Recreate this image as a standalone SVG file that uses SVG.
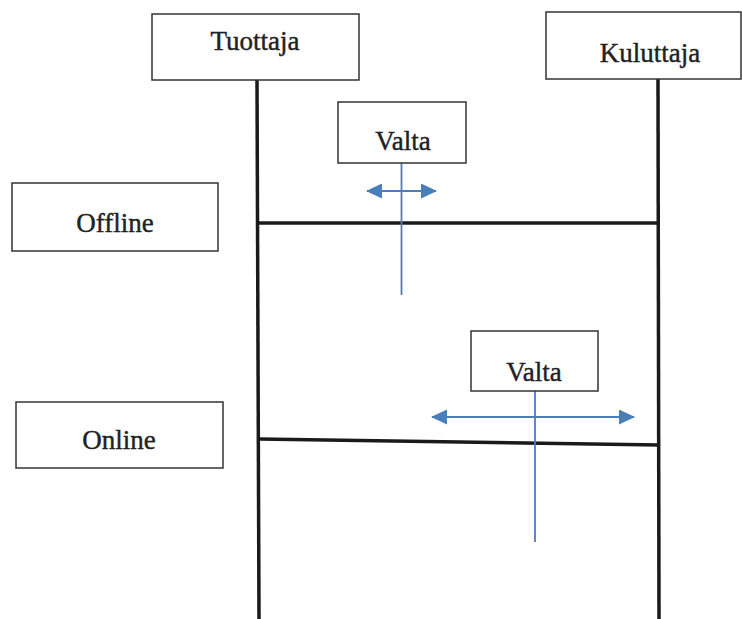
<svg xmlns="http://www.w3.org/2000/svg" width="742" height="619" viewBox="0 0 742 619">
<defs>
<style>
.box{fill:#fff;stroke:#333;stroke-width:1.5}
.lbl{font-family:"Liberation Serif",serif;font-size:27px;fill:#222;stroke:#222;stroke-width:0.4;text-anchor:middle}
.life{stroke:#1a1a1a;stroke-width:3.5;fill:none}
.blue{stroke:#4a7ebb;stroke-width:1.8;fill:none}
</style>
<marker id="ah" viewBox="0 0 16 15" refX="15" refY="7.5" markerWidth="16" markerHeight="15" orient="auto-start-reverse" markerUnits="userSpaceOnUse">
<path d="M0,0 L16,7.5 L0,15 z" fill="#4a7ebb"/>
</marker>
</defs>
<g id="connectors">
<line class="life" x1="257" y1="80" x2="259" y2="619"/>
<line class="life" x1="658" y1="79" x2="659" y2="619"/>
<line class="life" x1="258" y1="223" x2="658" y2="223"/>
<line class="life" x1="259" y1="439" x2="659" y2="445"/>
<line class="blue" x1="401.5" y1="163" x2="401.5" y2="295"/>
<line class="blue" x1="367" y1="191" x2="436" y2="191" marker-start="url(#ah)" marker-end="url(#ah)"/>
<line class="blue" x1="535" y1="391" x2="535" y2="542"/>
<line class="blue" x1="432" y1="417" x2="634" y2="417" marker-start="url(#ah)" marker-end="url(#ah)"/>
</g>
<g id="tuottaja">
<rect class="box" x="152" y="14" width="207" height="66"/>
<text class="lbl" x="255" y="50">Tuottaja</text>
</g>
<g id="kuluttaja">
<rect class="box" x="546" y="12" width="195" height="67"/>
<text class="lbl" x="650" y="62">Kuluttaja</text>
</g>
<g id="valta1">
<rect class="box" x="338" y="102" width="128" height="61"/>
<text class="lbl" x="403" y="150">Valta</text>
</g>
<g id="offline">
<rect class="box" x="12" y="183" width="206" height="68"/>
<text class="lbl" x="115" y="232">Offline</text>
</g>
<g id="valta2">
<rect class="box" x="471" y="331" width="127" height="60"/>
<text class="lbl" x="534" y="381">Valta</text>
</g>
<g id="online">
<rect class="box" x="16" y="402" width="207" height="66"/>
<text class="lbl" x="119" y="449">Online</text>
</g>
</svg>
